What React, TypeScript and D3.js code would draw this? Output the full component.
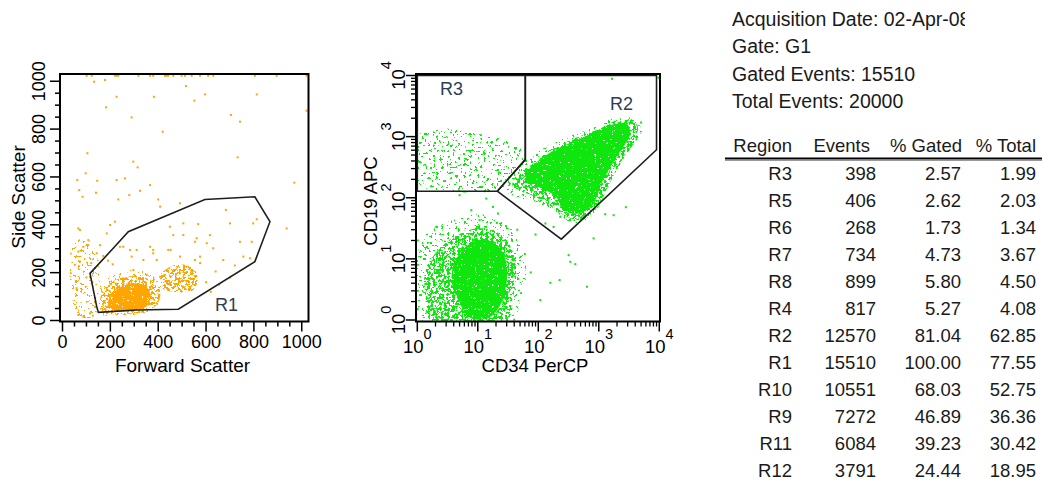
import React from "react";
import * as d3 from "d3";

const W = 1042;
const H = 482;

// ---------- axes ----------
const linTicks = [0, 200, 400, 600, 800, 1000];
const linMinor = [50, 100, 150, 250, 300, 350, 450, 500, 550, 650, 700, 750, 850, 900, 950];
const logExps = [0, 1, 2, 3, 4];
const logMinorMult = [2, 3, 4, 5, 6, 7, 8, 9];

// ---------- left plot: FSC / SSC ----------
const r1Gate: [number, number][] = [
  [115, 197], [212, 302], [275, 371], [595, 506], [804, 517], [867, 413],
  [804, 246], [484, 47], [310, 44], [150, 34], [143, 58],
];
const orangeLeftCloud: [number, number][] = [
  [44, 316], [94, 345], [136, 295], [157, 211], [148, 107], [136, 23], [73, 10], [40, 86], [31, 211],
];
const orangeLeftLowCloud: [number, number][] = [
  [60, 190], [110, 200], [140, 130], [135, 40], [80, 25], [50, 90],
];
const orangeHaloCloud: [number, number][] = [
  [148, 86], [157, 148], [199, 186], [261, 211], [324, 211], [387, 178], [416, 127],
  [407, 77], [366, 35], [240, 23], [157, 27],
];
const orangeCoreHaloCloud: [number, number][] = [
  [157, 86], [178, 140], [232, 173], [303, 186], [366, 170], [407, 127], [399, 73],
  [357, 40], [240, 27], [165, 35],
];
const orangeCoreCloud: [number, number][] = [
  [190, 75], [225, 128], [285, 155], [345, 146], [368, 104], [352, 60], [290, 42], [215, 42],
];
const orangeSecondCloud: [number, number][] = [
  [407, 186], [458, 228], [516, 232], [558, 203], [562, 153], [533, 119], [470, 119], [416, 136],
];
const orangePoints: [number, number][] = [
  [101, 1023], [122, 1023], [219, 1023], [226, 1023], [233, 1023], [317, 1023], [366, 1023],
  [379, 1023], [428, 1023], [435, 1023], [442, 1023], [463, 1023], [498, 1023], [512, 1023],
  [540, 1023], [575, 1023], [609, 1023], [630, 1023], [804, 1023], [895, 1023], [1020, 1023],
  [132, 998], [178, 1005], [516, 980], [226, 935], [382, 935], [596, 945], [812, 945],
  [551, 919], [1020, 877], [182, 891], [704, 859], [742, 831], [289, 849], [419, 789],
  [104, 699], [732, 682], [296, 664], [314, 640], [969, 576], [62, 587], [97, 615],
  [145, 584], [226, 587], [261, 594], [366, 566], [70, 545], [84, 517], [140, 534],
  [233, 506], [279, 524], [324, 542], [400, 506], [66, 385], [937, 385], [812, 423],
  [797, 406], [700, 406], [683, 462], [505, 406], [567, 403], [491, 490], [408, 476],
  [463, 357], [616, 357], [742, 329], [554, 329], [630, 302], [672, 253], [491, 197],
  [575, 267], [394, 253], [379, 295], [442, 295], [282, 295], [240, 308], [756, 267],
  [784, 260], [791, 329], [452, 295], [491, 267], [554, 253], [519, 225], [575, 240],
  [408, 183], [352, 190], [296, 211], [338, 253], [289, 267], [379, 281], [254, 308],
  [561, 344], [603, 323], [505, 357], [449, 392], [366, 308], [310, 295], [73, 378],
  [108, 336], [87, 308], [66, 288], [73, 246], [143, 281], [157, 315], [185, 364],
  [199, 399], [219, 413], [59, 135], [66, 23], [87, 16], [115, 30], [190, 250],
  [170, 270], [210, 235], [120, 240], [100, 180], [125, 160], [655, 150], [700, 180],
  [620, 120], [600, 160], [640, 205], [720, 230],
];

// ---------- right plot: CD34 / CD19 ----------
const r3Gate: [number, number][] = [[1, 128], [21, 128], [61, 420], [61, 10000], [1, 10000]];
const r2Gate: [number, number][] = [[21, 128], [61, 420], [61, 10000], [9000, 10000], [9000, 610], [240, 21]];

const lowerSparseCloud: [number, number][] = [
  [1.04, 13.9], [1.52, 27.3], [3.79, 42.9], [11.0, 53.7], [25.4, 39.8], [50.4, 20.2],
  [63, 5.43], [50.4, 2.12], [37.1, 1], [1.04, 1],
];
const lowerMidCloud: [number, number][] = [
  [1.36, 6.55], [2.22, 13.9], [4.25, 23.5], [10.2, 31.8], [23.5, 25.3], [37.1, 13.9],
  [43.2, 5.43], [37.1, 2.12], [29.5, 1], [1.64, 1], [1.36, 2.56],
];
const lowerCoreCloud: [number, number][] = [
  [3.79, 6.55], [5.54, 13.9], [10.2, 20.2], [20.2, 17.4], [29.5, 8.86], [29.5, 3.72],
  [23.5, 1.76], [14.9, 1.08], [7.51, 1.08], [4.76, 2.12], [3.79, 3.72],
];
const r3SparseCloud: [number, number][] = [
  [1.04, 1050], [2.4, 1360], [7.51, 1170], [23.5, 935], [54.4, 595], [68, 303], [37.1, 179],
  [16.1, 123], [5.13, 123], [1.64, 133], [1.04, 179],
];
const r3MidCloud: [number, number][] = [
  [2.59, 643], [7.51, 803], [23.5, 595], [41.7, 380], [28.4, 225], [11.0, 166], [3.79, 179], [2.4, 303],
];
const r2SparseCloud: [number, number][] = [
  [29.5, 133], [63, 410], [223, 867], [910, 1460], [1950, 2150], [3710, 1920], [5390, 1120],
  [3320, 668], [1950, 280], [1170, 102], [694, 48.1], [379, 38.3], [176, 62.6], [82.6, 81.2], [43.2, 102],
];
const r2MidCloud: [number, number][] = [
  [37.1, 160], [89.1, 410], [279, 803], [1060, 1360], [2470, 1990], [4270, 1590], [3950, 867],
  [2470, 410], [1370, 143], [910, 62.6], [494, 42.9], [231, 55.6], [131, 84.3], [60.9, 123],
];
const r2CoreCloud: [number, number][] = [
  [63, 251], [151, 533], [556, 973], [1490, 1520], [2850, 1640], [3320, 1120], [1950, 458],
  [1170, 193], [812, 81.2], [474, 55.6], [258, 62.6], [198, 102], [104, 148], [63, 179],
];
const greenPoints: [number, number][] = [
  [338, 8.95], [409, 8.21], [638, 3.5], [158, 4.06], [108, 2.12], [225, 4.5], [317, 11.5],
  [820, 21.6], [1280, 53.8], [1650, 8830], [9730, 9180], [179, 33.4], [131, 37.9], [1760, 51.8],
  [561, 45.8], [231, 48.6], [9.7, 33.4], [2.12, 33.4], [1.45, 15.7], [13.8, 97], [7.81, 62.5],
  [10.7, 42.9], [17.8, 70.8], [5.0, 110], [2.06, 33.4], [13.8, 33.4], [21.6, 55.2],
  [1.02, 3], [1.02, 8], [1.02, 20], [1.02, 1.5], [1.03, 600], [1.03, 400], [3, 1.01],
  [6, 1.01], [15, 1.01], [40, 1.01], [60, 12], [75, 6], [90, 25], [45, 30], [2800, 70],
  [4200, 900], [5000, 1700], [130, 300], [48, 200],
];

// ---------- statistics ----------
const infoLines = ["Acquisition Date: 02-Apr-08", "Gate: G1", "Gated Events: 15510", "Total Events: 20000"];
const tableHeader = ["Region", "Events", "% Gated", "% Total"];
const regions = ["R3", "R5", "R6", "R7", "R8", "R4", "R2", "R1", "R10", "R9", "R11", "R12"];
const events = [398, 406, 268, 734, 899, 817, 12570, 15510, 10551, 7272, 6084, 3791];
const pctGated = [2.57, 2.62, 1.73, 4.73, 5.8, 5.27, 81.04, 100.0, 68.03, 46.89, 39.23, 24.44];
const pctTotal = [1.99, 2.03, 1.34, 3.67, 4.5, 4.08, 62.85, 77.55, 52.75, 36.36, 30.42, 18.95];

// ---------- styles ----------
const FONT = "Arial, 'Liberation Sans', Helvetica, sans-serif";
const ORANGE = "#ffa500";
const GREEN = "#0ee60e";
const GATE = "#1e1e1e";
const GATE_LABEL = "#2c3e55";
const SPECKLE = [
  { id: "spk-sparse", t: 0.63, seed: 3, freq: 0.36 },
  { id: "spk-mid", t: 0.51, seed: 11, freq: 0.36 },
  { id: "spk-dense", t: 0.3, seed: 23, freq: 0.36 },
];

const xF = d3.scaleLinear().domain([0, 1024]).range([62.5, 307.5]);
const yF = d3.scaleLinear().domain([0, 1024]).range([320.5, 75.5]);
const xL = d3.scaleLog().domain([1, 1e4]).range([417.3, 659.3]);
const yL = d3.scaleLog().domain([1, 1e4]).range([320, 75.5]);

const LF = { x0: 60, x1: 308.5, y0: 74, y1: 321.5 };
const RF = { x0: 416, x1: 660, y0: 74, y1: 321.5 };

function cloudPath(pts: [number, number][], sx: any, sy: any) {
  return d3
    .line<[number, number]>()
    .x((d) => sx(d[0]))
    .y((d) => sy(d[1]))
    .curve(d3.curveCatmullRomClosed.alpha(0.5))(pts) as string;
}
function gatePath(pts: [number, number][], sx: any, sy: any) {
  return d3
    .line<[number, number]>()
    .x((d) => sx(d[0]))
    .y((d) => sy(d[1]))
    .curve(d3.curveLinearClosed)(pts) as string;
}

export default function App() {
  const K = 40;
  const orangeLayers = [
    { pts: orangeLeftCloud, f: "spk-sparse" },
    { pts: orangeLeftLowCloud, f: "spk-sparse" },
    { pts: orangeHaloCloud, f: "spk-sparse" },
    { pts: orangeSecondCloud, f: "spk-mid" },
    { pts: orangeCoreHaloCloud, f: "spk-mid" },
    { pts: orangeCoreCloud, f: "spk-dense" },
  ];
  const greenLayers = [
    { pts: lowerSparseCloud, f: "spk-sparse" },
    { pts: lowerMidCloud, f: "spk-mid" },
    { pts: lowerCoreCloud, f: "spk-dense" },
    { pts: r3SparseCloud, f: "spk-sparse" },
    { pts: r3MidCloud, f: "spk-sparse" },
    { pts: r2SparseCloud, f: "spk-sparse" },
    { pts: r2MidCloud, f: "spk-mid" },
    { pts: r2CoreCloud, f: "spk-dense" },
  ];

  const rowY = (i: number) => 179.5 + i * 27.05;
  const colRight = [792, 876, 961, 1036];
  const headRight = [792, 870, 962, 1036];

  return (
    <svg
      width={W}
      height={H}
      viewBox={`0 0 ${W} ${H}`}
      style={{ position: "absolute", left: 0, top: 0, background: "#fff" }}
      fontFamily={FONT}
    >
      <defs>
        {SPECKLE.map((s) => (
          <filter
            key={s.id}
            id={s.id}
            filterUnits="userSpaceOnUse"
            x={0}
            y={0}
            width={W}
            height={H}
            colorInterpolationFilters="sRGB"
          >
            <feTurbulence type="fractalNoise" baseFrequency={s.freq} numOctaves={2} seed={s.seed} result="n" />
            <feColorMatrix
              in="n"
              type="matrix"
              values={`0 0 0 0 0  0 0 0 0 0  0 0 0 0 0  ${K} 0 0 0 ${-K * s.t}`}
              result="m"
            />
            <feComposite in="SourceGraphic" in2="m" operator="in" />
          </filter>
        ))}
        <clipPath id="clipL">
          <rect x={LF.x0} y={LF.y0} width={LF.x1 - LF.x0} height={LF.y1 - LF.y0} />
        </clipPath>
        <clipPath id="clipR">
          <rect x={RF.x0} y={RF.y0} width={RF.x1 - RF.x0} height={RF.y1 - RF.y0} />
        </clipPath>
        <clipPath id="clipInfo">
          <rect x={700} y={0} width={265} height={130} />
        </clipPath>
      </defs>
      <rect x={0} y={0} width={W} height={H} fill="#fff" />

      {/* ---------- left plot ---------- */}
      <g clipPath="url(#clipL)">
        {orangeLayers.map((l, i) => (
          <path key={i} d={cloudPath(l.pts, xF, yF)} fill={ORANGE} filter={`url(#${l.f})`} />
        ))}
        {orangePoints.map((p, i) => (
          <rect key={i} x={xF(p[0]) - 1} y={yF(p[1]) - 1} width={2} height={2} fill={ORANGE} />
        ))}
      </g>
      <path d={gatePath(r1Gate, xF, yF)} fill="none" stroke={GATE} strokeWidth={1.6} />
      <text x={215} y={311} fontSize={18} fill={GATE_LABEL}>R1</text>
      <path
        d={`M${LF.x0},${LF.y0}H${LF.x1}V${LF.y1}H${LF.x0}Z`}
        fill="none"
        stroke="#000"
        strokeWidth={2}
      />
      {linTicks.map((v) => (
        <g key={"lx" + v}>
          <line x1={xF(v)} x2={xF(v)} y1={LF.y1} y2={LF.y1 + 10} stroke="#000" strokeWidth={1.5} />
          <text x={xF(v)} y={348} fontSize={18} textAnchor="middle">{v}</text>
        </g>
      ))}
      {linMinor.map((v) => (
        <line key={"lxm" + v} x1={xF(v)} x2={xF(v)} y1={LF.y1} y2={LF.y1 + 5} stroke="#000" strokeWidth={1.5} />
      ))}
      {linTicks.map((v) => (
        <g key={"ly" + v}>
          <line x1={LF.x0 - 10} x2={LF.x0} y1={yF(v)} y2={yF(v)} stroke="#000" strokeWidth={1.5} />
          <text
            transform={`translate(45,${yF(v)}) rotate(-90)`}
            fontSize={18}
            textAnchor="middle"
          >
            {v}
          </text>
        </g>
      ))}
      {linMinor.map((v) => (
        <line key={"lym" + v} x1={LF.x0 - 5} x2={LF.x0} y1={yF(v)} y2={yF(v)} stroke="#000" strokeWidth={1.5} />
      ))}
      <text x={182.5} y={372} fontSize={19} textAnchor="middle">Forward Scatter</text>
      <text transform="translate(25,197) rotate(-90)" fontSize={19} textAnchor="middle">Side Scatter</text>

      {/* ---------- right plot ---------- */}
      <g clipPath="url(#clipR)">
        {greenLayers.map((l, i) => (
          <path key={i} d={cloudPath(l.pts, xL, yL)} fill={GREEN} filter={`url(#${l.f})`} />
        ))}
        {greenPoints.map((p, i) => (
          <rect key={i} x={xL(p[0]) - 1} y={yL(p[1]) - 1} width={2} height={2} fill={GREEN} />
        ))}
      </g>
      <path d={gatePath(r3Gate, xL, yL)} fill="none" stroke={GATE} strokeWidth={1.6} />
      <path d={gatePath(r2Gate, xL, yL)} fill="none" stroke={GATE} strokeWidth={1.6} />
      <text x={440} y={95} fontSize={18} fill={GATE_LABEL}>R3</text>
      <text x={610} y={110} fontSize={18} fill={GATE_LABEL}>R2</text>
      <path
        d={`M${RF.x0},${RF.y0}H${RF.x1}V${RF.y1}H${RF.x0}Z`}
        fill="none"
        stroke="#000"
        strokeWidth={2}
      />
      {logExps.map((e) => {
        const v = Math.pow(10, e);
        return (
          <g key={"rx" + e}>
            <line x1={xL(v)} x2={xL(v)} y1={RF.y1} y2={RF.y1 + 10} stroke="#000" strokeWidth={1.5} />
            <text x={xL(v)} y={353} fontSize={18.5} textAnchor="middle">
              10<tspan fontSize={14.5} dy={-14}>{e}</tspan>
            </text>
            <line x1={RF.x0 - 10} x2={RF.x0} y1={yL(v)} y2={yL(v)} stroke="#000" strokeWidth={1.5} />
            <text transform={`translate(405,${yL(v)}) rotate(-90)`} fontSize={18.5} textAnchor="middle">
              10<tspan fontSize={14.5} dy={-14}>{e}</tspan>
            </text>
          </g>
        );
      })}
      {logExps.slice(0, 4).map((e) =>
        logMinorMult.map((m) => {
          const v = m * Math.pow(10, e);
          return (
            <g key={"rm" + e + "-" + m}>
              <line x1={xL(v)} x2={xL(v)} y1={RF.y1} y2={RF.y1 + 5} stroke="#000" strokeWidth={1.3} />
              <line x1={RF.x0 - 5} x2={RF.x0} y1={yL(v)} y2={yL(v)} stroke="#000" strokeWidth={1.3} />
            </g>
          );
        })
      )}
      <text x={535} y={372} fontSize={18.5} textAnchor="middle">CD34 PerCP</text>
      <text transform="translate(377,201) rotate(-90)" fontSize={18.5} textAnchor="middle">CD19 APC</text>

      {/* ---------- statistics ---------- */}
      <g clipPath="url(#clipInfo)" fill="#1a1a1a">
        {infoLines.map((t, i) => (
          <text key={t} x={732} y={26 + i * 27.4} fontSize={19.5}>{t}</text>
        ))}
      </g>
      {tableHeader.map((h, i) => (
        <text key={h} x={headRight[i]} y={151.5} fontSize={18.5} textAnchor="end" fill="#1a1a1a">{h}</text>
      ))}
      <line x1={725} x2={1042} y1={158.5} y2={158.5} stroke="#000" strokeWidth={2} />
      <line x1={725} x2={1042} y1={160.5} y2={160.5} stroke="#999" strokeWidth={1} />
      {regions.map((r, i) => (
        <g key={r} fontSize={18.5} textAnchor="end" fill="#1a1a1a">
          <text x={colRight[0]} y={rowY(i)}>{r}</text>
          <text x={colRight[1]} y={rowY(i)}>{events[i]}</text>
          <text x={colRight[2]} y={rowY(i)}>{pctGated[i].toFixed(2)}</text>
          <text x={colRight[3]} y={rowY(i)}>{pctTotal[i].toFixed(2)}</text>
        </g>
      ))}
    </svg>
  );
}
